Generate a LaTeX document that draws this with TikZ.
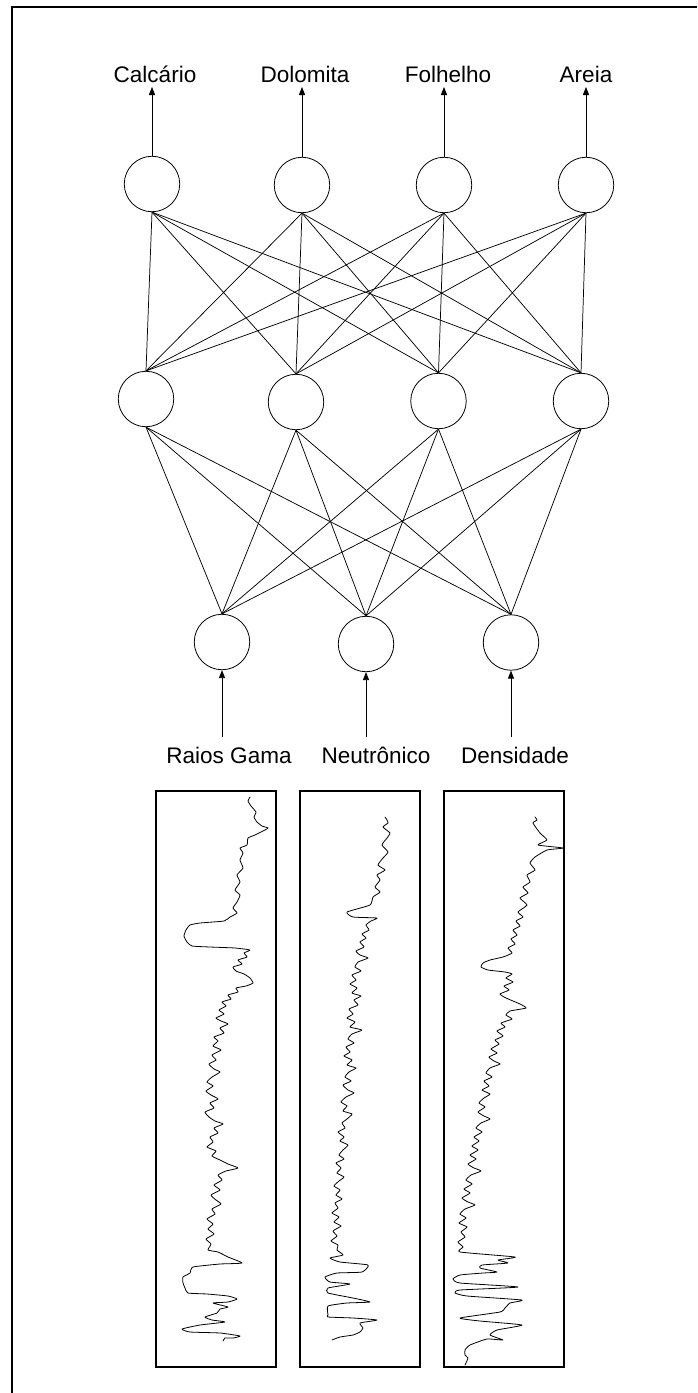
\documentclass[tikz,border=0pt]{standalone}
\usepackage{fontspec}
\setmainfont{Liberation Sans}
\usetikzlibrary{arrows.meta}
\begin{document}
\begin{tikzpicture}[x=0.75pt,y=-0.75pt,
  neuron/.style={circle,draw,line width=0.6pt,inner sep=0pt,minimum size=41.6pt},
  link/.style={line width=0.55pt},
  feed/.style={line width=0.6pt,-{Triangle[length=6pt,width=4.6pt]}},
  lbl/.style={anchor=base,inner sep=0pt,font=\fontsize{16.9}{20}\selectfont},
  logbox/.style={draw,line width=1.3pt},
  logcurve/.style={line width=0.6pt,line join=round,line cap=round},
  frameline/.style={line width=1.4pt}]
\useasboundingbox (0,0) rectangle (697,1393);
\draw[frameline] (12,1393) -- (12,7.3) -- (697,7.3);

% output layer
\node[neuron] (o1) at (152,184) {};
\node[neuron] (o2) at (302,185) {};
\node[neuron] (o3) at (444,185) {};
\node[neuron] (o4) at (586,185) {};
% hidden layer
\node[neuron] (h1) at (146,399) {};
\node[neuron] (h2) at (296,402) {};
\node[neuron] (h3) at (438.5,401) {};
\node[neuron] (h4) at (581,401) {};
% input layer
\node[neuron] (i1) at (222,642) {};
\node[neuron] (i2) at (366,644) {};
\node[neuron] (i3) at (511,642.5) {};

\foreach \o in {1,...,4}
  \foreach \h in {1,...,4}
    \draw[link] (o\o.south) -- (h\h.north);
\foreach \h in {1,...,4}
  \foreach \i in {1,...,3}
    \draw[link] (h\h.south) -- (i\i.north);

% output labels
\node[lbl] (t1) at (155,82) {Calcário};
\node[lbl] (t2) at (305,82) {Dolomita};
\node[lbl] (t3) at (448,82) {Folhelho};
\node[lbl] (t4) at (586,82) {Areia};
\coordinate (a1) at (152,87);
\coordinate (a2) at (302,87);
\coordinate (a3) at (444,87);
\coordinate (a4) at (586,87);
\foreach \k in {1,...,4}
  \draw[feed] (o\k.north) -- (a\k);

% input labels
\node[lbl] (s1) at (229,763) {Raios Gama};
\node[lbl] (s2) at (376,763) {Neutrônico};
\node[lbl] (s3) at (515,763) {Densidade};
\coordinate (b1) at (222,737);
\coordinate (b2) at (366,737);
\coordinate (b3) at (511,737);
\foreach \k in {1,...,3}
  \draw[feed] (b\k) -- (i\k.south);

% well-log panels
\draw[logbox] (155.7,791) rectangle (276,1366.7);
\draw[logbox] (300,791) rectangle (420,1366.7);
\draw[logbox] (444,791) rectangle (564,1366.7);

% gamma ray log
\draw[logcurve] plot[smooth,tension=0.3] coordinates {(250,797) (248,801) (251,806) (256,812) (254,817) (257,822) (262,826) (268,828) (263,831) (255,835) (248,838) (247,845) (240,848) (243,853) (240,860) (243,868) (237,875) (240,882) (235,890) (240,895) (237,902) (233,908) (237,913) (230,917)
 (224,921) (200,923) (190,925) (186,930) (184,936) (187,942) (192,946) (210,947) (235,948) (250,950) (244,953) (247,957) (238,960) (242,964) (233,967) (236,971) (244,974) (250,978) (253,983) (246,986) (236,988) (238,992) (228,995) (231,999) (222,1002) (226,1006) (219,1010) (224,1014) (216,1018) (221,1021) (228,1024) (220,1028) (224,1033) (214,1037) (218,1041) (213,1046) (221,1050) (212,1055) (216,1060) (209,1064) (214,1069) (220,1072) (212,1077) (207,1082) (213,1086) (206,1091) (211,1095) (218,1099) (210,1103) (214,1108) (205,1112) (209,1117) (215,1121) (223,1124) (214,1128) (218,1133) (210,1137) (213,1142) (207,1147) (216,1151) (212,1156) (220,1160) (228,1164) (238,1168) (226,1171) (218,1175) (222,1180) (214,1185) (220,1190) (211,1195) (216,1200) (221,1204) (212,1209) (215,1214) (207,1219) (213,1224) (208,1229) (214,1234) (206,1239) (211,1244) (208,1250)
 (218,1252) (228,1257) (242,1263) (220,1264) (193,1267) (190,1273) (183,1277) (183,1283) (185,1288) (188,1293) (207,1294) (228,1296) (237,1299) (228,1302) (213,1303) (228,1307) (220,1309) (217,1313) (205,1317) (212,1320) (225,1322) (200,1325) (182,1329) (190,1332) (220,1333) (240,1336) (233,1338) (225,1338) (223,1341)};

% neutron log
\draw[logcurve] plot[smooth,tension=0.3] coordinates {(385,817) (387,820) (388,823) (383,827) (390,833) (387,838) (382,845) (388,852) (383,858) (378,865) (385,870) (377,875) (380,880) (375,887) (380,892) (373,897) (370,905) (347,912) (353,917) (377,918)
 (371,921) (366,925) (369,930) (362,934) (366,938) (360,942) (364,947) (356,951) (360,955) (368,958) (358,962) (355,967) (361,971) (352,975) (356,980) (350,984) (357,988) (352,993) (361,996) (354,1000) (358,1005) (349,1009) (353,1014) (347,1018) (355,1022) (350,1027) (362,1030) (352,1034) (348,1039) (354,1043) (346,1047) (350,1052) (344,1056) (352,1060) (347,1065) (356,1068) (349,1072) (345,1077) (351,1081) (343,1085) (348,1090) (354,1093) (346,1097) (341,1102) (347,1106) (343,1111) (352,1114) (347,1119) (342,1123) (345,1128) (338,1132) (344,1137) (340,1141) (348,1145) (343,1150) (339,1155) (344,1159) (336,1163) (341,1168) (337,1173) (344,1177) (339,1181) (334,1186) (340,1190) (336,1195) (342,1199) (335,1203) (338,1208) (332,1213) (339,1217) (334,1222) (341,1226) (333,1231) (337,1236) (331,1241) (338,1245) (337,1250)
 (343,1255) (330,1258) (340,1262) (368,1265) (362,1272) (337,1273) (325,1277) (330,1282) (350,1284) (328,1288) (328,1293) (353,1298) (370,1302) (347,1303) (328,1306) (328,1315) (328,1317) (353,1318) (377,1320) (360,1323) (363,1328) (360,1332) (353,1335) (340,1337) (332,1340)};

% density log
\draw[logcurve] plot[smooth,tension=0.3] coordinates {(535,817) (537,820) (533,823) (540,833) (547,840) (538,845) (563,848) (547,850) (535,857) (530,863) (535,870) (527,875) (530,882) (523,887) (528,893) (520,898) (527,905) (518,912) (523,917)
 (516,921) (520,926) (513,930) (517,935) (511,939) (515,944) (508,948) (512,953) (503,957) (490,960) (483,963) (481,967) (488,970) (505,972) (512,974) (506,978) (513,982) (504,986) (509,990) (500,994) (506,998) (520,1004) (526,1008) (510,1011) (506,1015) (512,1019) (501,1023) (505,1027) (497,1031) (503,1036) (495,1040) (499,1044) (491,1049) (497,1053) (489,1057) (494,1061) (500,1064) (490,1068) (486,1073) (492,1077) (484,1081) (489,1086) (482,1090) (490,1094) (484,1098) (479,1103) (485,1107) (478,1112) (484,1116) (490,1119) (481,1123) (476,1128) (482,1132) (474,1137) (479,1141) (472,1146) (478,1150) (470,1155) (476,1159) (468,1164) (474,1168) (481,1171) (471,1175) (466,1180) (472,1184) (464,1189) (470,1193) (462,1198) (468,1202) (475,1205) (465,1209) (460,1214) (466,1218) (459,1223) (467,1227) (461,1232) (465,1237) (458,1242) (463,1247) (460,1252)
 (515,1257) (498,1260) (508,1263) (482,1265) (480,1268) (497,1272) (483,1273) (460,1275) (453,1279) (460,1283) (518,1287) (460,1290) (455,1293) (467,1296) (522,1300) (510,1303) (505,1308) (500,1312) (460,1318) (480,1321) (522,1325) (497,1330) (490,1335) (503,1340) (487,1339) (470,1345) (465,1350) (465,1355) (468,1358) (465,1365)};
\end{tikzpicture}
\end{document}
